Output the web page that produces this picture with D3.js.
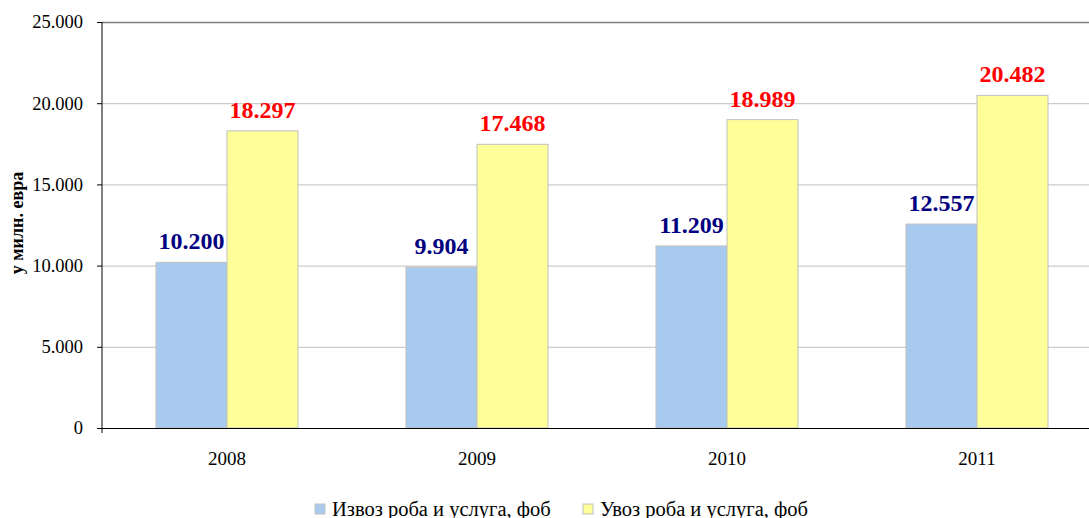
<!DOCTYPE html>
<html>
<head>
<meta charset="utf-8">
<script src="https://cdn.jsdelivr.net/npm/d3@7"></script>
<style>
  body { margin: 0; background: #fff; }
  svg { display: block; font-family: "Liberation Serif", "Times New Roman", serif; }
</style>
</head>
<body>
<div id="chart"></div>
<script>
var years = ["2008", "2009", "2010", "2011"];
var exportVals = [10200, 9904, 11209, 12557];
var importVals = [18297, 17468, 18989, 20482];
var seriesNames = ["Извоз роба и услуга, фоб", "Увоз роба и услуга, фоб"];
var yTicks = [0, 5000, 10000, 15000, 20000, 25000];

var svgWidth = 1089;
var svgHeight = 518;

var plotLeft = 102, plotTop = 22, plotBottom = 428, plotRight = 1102;

var svg = d3.select("#chart")
    .append("svg")
    .attr("width", svgWidth)
    .attr("height", svgHeight);

var fmt = function(v) {
    return v === 0 ? "0" : d3.format(",")(v).replace(/,/g, ".");
};

var x = d3.scaleBand()
    .domain(years)
    .range([plotLeft, plotRight])
    .padding(0);

var y = d3.scaleLinear()
    .domain([0, 25000])
    .range([plotBottom, plotTop]);

var barW = x.bandwidth() * 0.284;

// gridlines
svg.append("g")
    .selectAll("line")
    .data(yTicks.filter(d => d > 0 && d < 25000))
    .enter()
    .append("line")
    .attr("x1", plotLeft)
    .attr("x2", plotRight)
    .attr("y1", d => y(d) + 0.5)
    .attr("y2", d => y(d) + 0.5)
    .attr("stroke", "#c0c0c0")
    .attr("stroke-width", 1);

// top border
svg.append("line")
    .attr("x1", plotLeft).attr("x2", plotRight)
    .attr("y1", y(25000) + 0.5).attr("y2", y(25000) + 0.5)
    .attr("stroke", "#808080")
    .attr("stroke-width", 1.5);

var data = years.map((yr, i) => ({ year: yr, exp: exportVals[i], imp: importVals[i] }));

var groups = svg.selectAll("g.year")
    .data(data)
    .enter()
    .append("g")
    .attr("class", "year");

var cx = d => x(d.year) + x.bandwidth() / 2;

groups.append("rect")
    .attr("x", d => cx(d) - barW)
    .attr("y", d => y(d.exp))
    .attr("width", barW)
    .attr("height", d => y(0) - y(d.exp))
    .attr("fill", "#a8caee")
    .attr("stroke", "#c0c0c0")
    .attr("stroke-width", 1);

groups.append("rect")
    .attr("x", d => cx(d))
    .attr("y", d => y(d.imp))
    .attr("width", barW)
    .attr("height", d => y(0) - y(d.imp))
    .attr("fill", "#ffff99")
    .attr("stroke", "#c0c0c0")
    .attr("stroke-width", 1);

groups.append("text")
    .attr("x", d => cx(d) - barW / 2)
    .attr("y", d => y(d.exp) - 13)
    .attr("text-anchor", "middle")
    .style("font-size", "24px")
    .style("font-weight", "bold")
    .attr("fill", "#000080")
    .text(d => fmt(d.exp));

groups.append("text")
    .attr("x", d => cx(d) + barW / 2)
    .attr("y", d => y(d.imp) - 13)
    .attr("text-anchor", "middle")
    .style("font-size", "24px")
    .style("font-weight", "bold")
    .attr("fill", "#ff0000")
    .text(d => fmt(d.imp));

// y axis
var yAxis = svg.append("g")
    .attr("transform", `translate(${plotLeft},0)`)
    .call(d3.axisLeft(y).tickValues(yTicks).tickFormat(fmt).tickSize(5).tickPadding(14));
yAxis.select(".domain").attr("stroke", "#000").attr("d", `M0,${plotTop}V${plotBottom}`);
yAxis.selectAll("text").style("font-size", "18.5px").style("font-family", "Liberation Serif, serif").attr("fill", "#000");

// x axis
var xAxis = svg.append("g")
    .attr("transform", `translate(0,${plotBottom})`)
    .call(d3.axisBottom(x).tickSize(0).tickPadding(24));
xAxis.select(".domain").attr("stroke", "#000").attr("d", `M${plotLeft},0.5H${plotRight}`);
xAxis.selectAll("text").style("font-size", "19px").style("font-family", "Liberation Serif, serif").attr("fill", "#000");
svg.append("line")
    .attr("x1", plotLeft).attr("x2", plotLeft)
    .attr("y1", plotBottom).attr("y2", plotBottom + 5)
    .attr("stroke", "#000");

// y axis title
svg.append("text")
    .attr("transform", "translate(23,223) rotate(-90)")
    .attr("text-anchor", "middle")
    .style("font-size", "18px")
    .style("font-weight", "bold")
    .text("у милн. евра");

// legend
var legendX = [315, 583];
var legend = svg.selectAll("g.legend")
    .data(seriesNames)
    .enter()
    .append("g")
    .attr("class", "legend")
    .attr("transform", (d, i) => `translate(${legendX[i]},504)`);

legend.append("rect")
    .attr("width", 10)
    .attr("height", 10)
    .attr("fill", (d, i) => i === 0 ? "#a8caee" : "#ffff99")
    .attr("stroke", "#c0c0c0");

legend.append("text")
    .attr("x", 17)
    .attr("y", 12)
    .style("font-size", "20.5px")
    .text(d => d);
</script>
</body>
</html>
